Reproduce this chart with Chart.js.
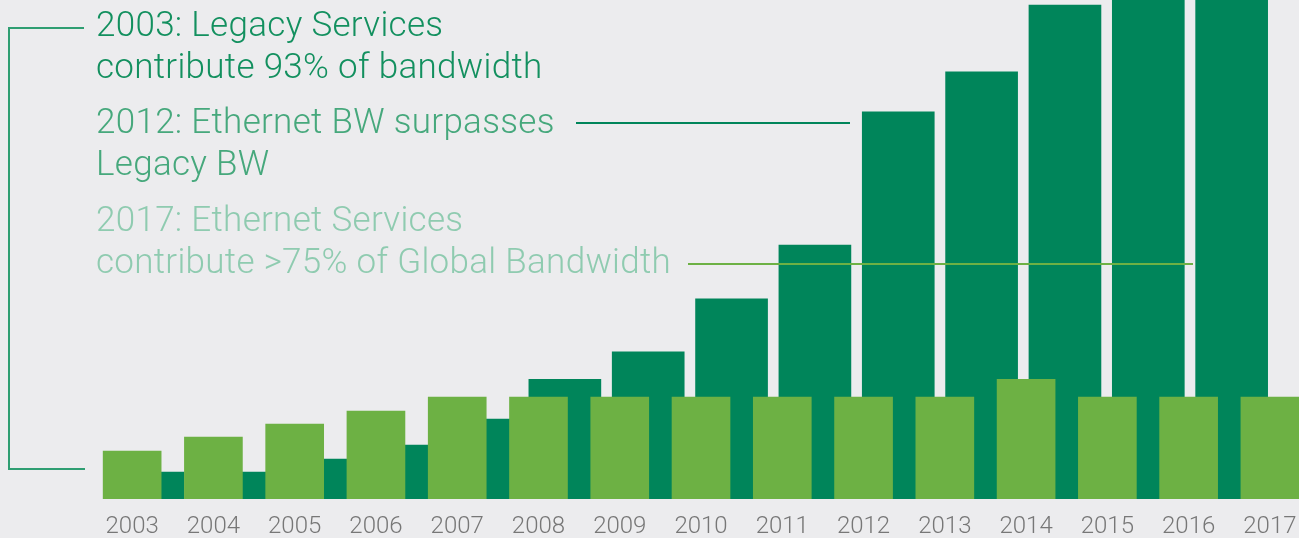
<!DOCTYPE html>
<html>
<head>
<meta charset="utf-8">
<script src="https://cdn.jsdelivr.net/npm/chart.js@4/dist/chart.umd.min.js"></script>
<style>
  html, body { margin: 0; padding: 0; background: #ececee; }
  #wrap { position: relative; width: 1299px; height: 538px; overflow: hidden; background: #ececee; }
  #chart { position: absolute; left: 0; top: 0; }
  .note { position: absolute; left: 96px; font-family: Roboto, sans-serif; font-weight: 300;
          font-size: 35px; line-height: 42px; white-space: nowrap; letter-spacing: 0.3px; }
  #n2003 { top: 4px;   color: #13905f; }
  #n2012 { top: 101px; color: #46a87c; }
  #n2017 { top: 199px; color: #8fcbb0; }
</style>
</head>
<body>
<div id="wrap">
  <canvas id="chart" width="1299" height="538"></canvas>
  <div class="note" id="n2003">2003: Legacy Services<br>contribute 93% of bandwidth</div>
  <div class="note" id="n2012">2012: Ethernet BW surpasses<br>Legacy BW</div>
  <div class="note" id="n2017">2017: Ethernet Services<br>contribute &gt;75% of Global Bandwidth</div>
</div>
<script>
// ---------- data (bandwidth index) ----------
const years      = [2003, 2004, 2005, 2006, 2007, 2008, 2009, 2010, 2011, 2012, 2013, 2014, 2015, 2016, 2017];
const legacyBW   = [9.6, 12.4, 15.0, 17.6, 20.4, 20.4, 20.4, 20.4, 20.4, 20.4, 20.4, 24.0, 20.4, 20.4, 20.4];
const ethernetBW = [5.4, 5.4, 8.0, 10.8, 16.0, 24.0, 29.5, 40.1, 50.9, 77.6, 85.6, 99.0, 108, 112, null];

const LIGHT = '#6db144';
const DARK  = '#00855a';

// annotation lines (bracket + leaders)
const notesPlugin = {
  id: 'notes',
  afterDraw(chart) {
    const c = chart.ctx;
    c.save();
    c.lineWidth = 2;
    // 2003 bracket
    c.strokeStyle = '#2f9e72';
    c.beginPath();
    c.moveTo(84, 28); c.lineTo(9, 28); c.lineTo(9, 469); c.lineTo(85, 469);
    c.stroke();
    // 2012 leader
    c.strokeStyle = DARK;
    c.beginPath(); c.moveTo(576, 123); c.lineTo(850, 123); c.stroke();
    // 2017 leader
    c.strokeStyle = LIGHT;
    c.beginPath(); c.moveTo(688, 264); c.lineTo(1193, 264); c.stroke();
    c.restore();
  }
};

new Chart(document.getElementById('chart'), {
  type: 'bar',
  data: {
    datasets: [
      {
        label: 'Legacy',
        data: years.map((y, i) => ({ x: y, y: legacyBW[i] })),
        backgroundColor: LIGHT,
        barThickness: 58,
        grouped: false,
        xAxisID: 'x',
        order: 0
      },
      {
        label: 'Ethernet',
        data: years.map((y, i) => ({ x: y, y: ethernetBW[i] })),
        backgroundColor: DARK,
        barThickness: 72,
        grouped: false,
        xAxisID: 'x2',
        order: 1
      }
    ]
  },
  options: {
    responsive: false,
    animation: false,
    layout: { padding: 0 },
    plugins: { legend: { display: false }, tooltip: { enabled: false } },
    scales: {
      x: {
        type: 'linear',
        offset: false,
        min: 2001.374, max: 2017.358,
        grid: { display: false, drawTicks: false, offset: false },
        border: { display: false },
        afterBuildTicks(scale) { scale.ticks = years.map(v => ({ value: v })); },
        afterFit(scale) { scale.height = 39; scale.paddingLeft = 0; scale.paddingRight = 0; },
        ticks: {
          padding: 14,
          autoSkip: false,
          maxRotation: 0,
          color: '#777777',
          font: { family: 'Roboto', weight: 300, size: 24 },
          callback: (v) => String(v)
        }
      },
      x2: {
        type: 'linear',
        display: false,
        offset: false,
        min: 2001.223, max: 2016.808
      },
      y: {
        display: false,
        min: 0, max: 100
      }
    }
  },
  plugins: [notesPlugin]
});
</script>
</body>
</html>
